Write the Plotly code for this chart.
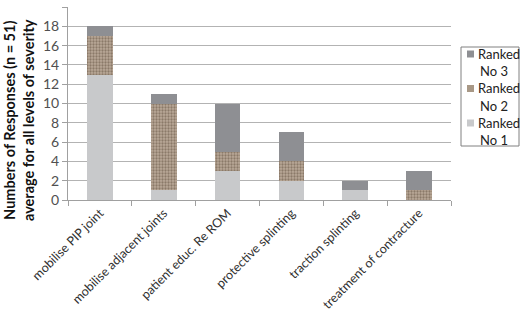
import plotly.graph_objects as go

categories = ["mobilise PIP joint", "mobilise adjacent joints", "patient educ. Re ROM",
              "protective splinting", "traction splinting", "treatment of contracture"]
ranked_no1 = [13, 1, 3, 2, 1, 0]
ranked_no2 = [4, 9, 2, 2, 0, 1]
ranked_no3 = [1, 1, 5, 3, 1, 2]
y_ticks = [0, 2, 4, 6, 8, 10, 12, 14, 16, 18, 20]
series_names = ["Ranked No 3", "Ranked No 2", "Ranked No 1"]
series_colors = ["#8e8f93", "#a89886", "#c8c9cb"]
y_title = "<b>Numbers of Responses (n = 51)<br>average for all levels of severity</b>"

FONT = "Lato"
W, H = 520, 313
ML, MR, MT, MB = 68, 69, 7, 113

fig = go.Figure()
fig.add_trace(go.Bar(x=categories, y=ranked_no1, name=series_names[2],
                     marker=dict(color=series_colors[2], line=dict(width=0))))
fig.add_trace(go.Bar(x=categories, y=ranked_no2, name=series_names[1],
                     marker=dict(color=series_colors[1], line=dict(width=0),
                                 pattern=dict(shape=".", fgcolor="#5e4a3a", bgcolor="#b9a998",
                                              size=3, solidity=0.45))))
fig.add_trace(go.Bar(x=categories, y=ranked_no3, name=series_names[0],
                     marker=dict(color=series_colors[0], line=dict(width=0))))


def px(xp):
    return (xp - ML) / (W - ML - MR)


def py(yp):
    return 1 - (yp - MT) / (H - MT - MB)


# compact legend box like the reference
shapes = [dict(type="rect", xref="paper", yref="paper", x0=px(461), x1=px(519),
               y0=py(146), y1=py(47), line=dict(color="#808080", width=1), fillcolor="white")]
annotations = []
for i, (name, col) in enumerate(zip(series_names, series_colors)):
    yc = 54 + i * 34.5
    shapes.append(dict(type="rect", xref="paper", yref="paper", x0=px(467), x1=px(474),
                       y0=py(yc + 3.5), y1=py(yc - 3.5), line=dict(width=0), fillcolor=col))
    annotations.append(dict(text=name.split(" ")[0], xref="paper", yref="paper", x=px(476), y=py(yc),
                            xanchor="left", yanchor="middle", showarrow=False,
                            font=dict(size=13, color="#222", family=FONT)))
    annotations.append(dict(text=" ".join(name.split(" ")[1:]), xref="paper", yref="paper",
                            x=px(478), y=py(yc + 17), xanchor="left", yanchor="middle",
                            showarrow=False, font=dict(size=13, color="#222", family=FONT)))

annotations.append(dict(text=y_title, textangle=-90, xref="paper", yref="paper",
                        x=px(19), y=py(120), xanchor="center", yanchor="middle",
                        showarrow=False, font=dict(size=14.5, color="#111", family=FONT)))

fig.update_layout(
    barmode="stack", bargap=0.6,
    width=W, height=H,
    margin=dict(l=ML, r=MR, t=MT, b=MB, autoexpand=False),
    plot_bgcolor="white", paper_bgcolor="white",
    font=dict(family=FONT, size=12, color="#404040"),
    showlegend=False,
    shapes=shapes,
    annotations=annotations,
)
fig.update_yaxes(range=[0, 20], tickvals=y_ticks, showgrid=True, gridcolor="#b3b3b3",
                 gridwidth=1, showline=True, linecolor="#a0a0a0", ticks="outside",
                 ticklen=5, tickcolor="#a0a0a0", tickfont=dict(size=14, color="#505050"),
                 automargin=False)
fig.update_xaxes(showline=True, linecolor="#a0a0a0", ticks="outside", tickson="boundaries",
                 ticklen=5, tickcolor="#a0a0a0", tickangle=-45, automargin=False,
                 tickfont=dict(size=12.5, color="#303030"))

fig.write_html("out.html")
